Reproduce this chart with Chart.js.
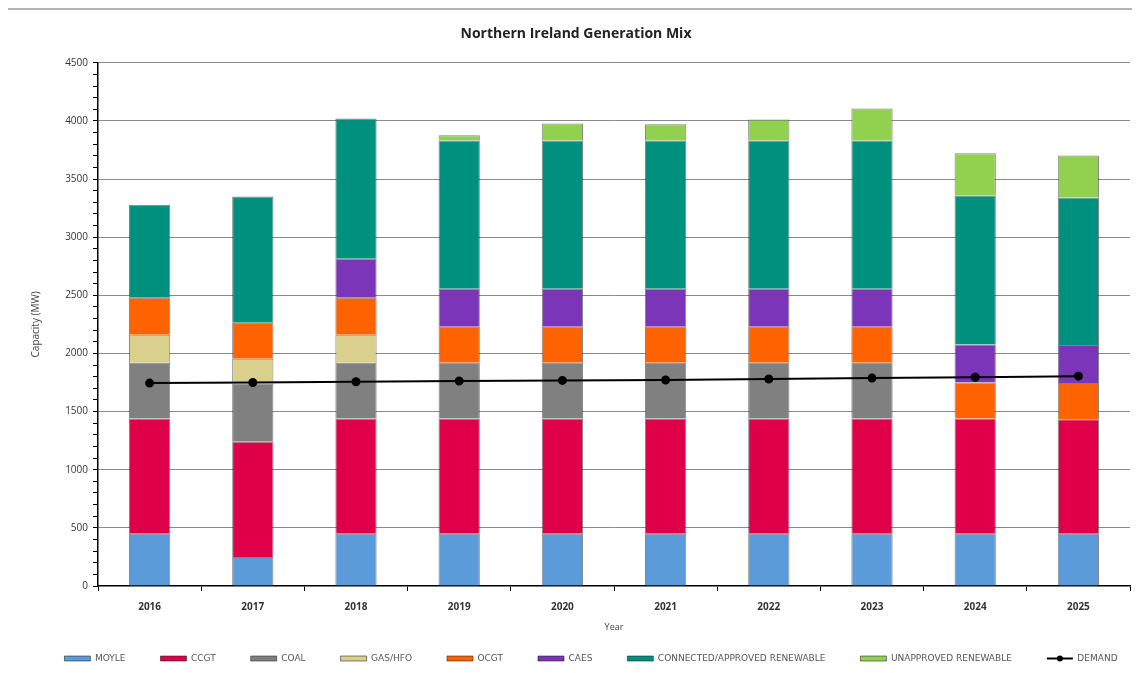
<!DOCTYPE html>
<html>
<head>
<meta charset="utf-8">
<script src="https://cdn.jsdelivr.net/npm/chart.js@4.4.1/dist/chart.umd.min.js"></script>
<style>
html, body { margin:0; padding:0; background:#ffffff; }
#wrap { position:relative; width:1137px; height:673px; }
#topRule { position:absolute; left:8px; top:8px; width:1124px; height:2px; background:#b4b4b4; }
</style>
</head>
<body>
<div id="wrap">
    <div id="topRule"></div>
    <canvas id="mixChart" width="1137" height="673"></canvas>
</div>
<script>

//======================================================
// DATA (MW)
//======================================================

const years = ["2016","2017","2018","2019","2020","2021","2022","2023","2024","2025"];

const moyle       = [450, 250, 450, 450, 450, 450, 450, 450, 450, 450];
const ccgt        = [990, 990, 990, 990, 990, 990, 990, 990, 990, 985];
const coal        = [480, 500, 480, 480, 480, 480, 480, 480, 0, 0];
const gasHfo      = [240, 215, 240, 0, 0, 0, 0, 0, 0, 0];
const ocgt        = [320, 310, 320, 310, 310, 310, 310, 310, 310, 310];
const caes        = [0, 0, 335, 327, 327, 327, 327, 327, 327, 327];
const renewable   = [800, 1085, 1205, 1275, 1275, 1275, 1275, 1275, 1282, 1270];
const unapproved  = [0, 0, 0, 45, 145, 140, 180, 275, 362, 360];
const demand      = [1745, 1750, 1757, 1763, 1768, 1772, 1780, 1788, 1795, 1805];

const yTickLabels = [0, 500, 1000, 1500, 2000, 2500, 3000, 3500, 4000, 4500];

//======================================================
// STYLE
//======================================================

const FONT = "'Open Sans', 'DejaVu Sans', sans-serif";
const BAR_EDGE = "rgba(30,30,30,0.55)";

function barSet(label, data, color){

    return {
        type:"bar",
        label:label,
        data:data,
        backgroundColor:color,
        borderColor:BAR_EDGE,
        borderWidth:1,
        stack:"mix",
        barPercentage:0.4,
        categoryPercentage:1.0,
        order:2
    };

}

//======================================================
// SMALL HELPERS: nudge title / legend, legend dot for demand
//======================================================

const nudgeBlocks = {
    id:"nudgeBlocks",
    afterLayout(chart){
        if(chart.legend){
            chart.legend.left += 26;
            chart.legend.right += 26;
        }
        if(chart.titleBlock){
            chart.titleBlock.left += 11;
            chart.titleBlock.right += 11;
        }
    }
};

const demandDot = {
    id:"demandDot",
    afterDraw(chart){
        const legend = chart.legend;
        if(!legend || !legend.legendHitBoxes) return;
        const idx = legend.legendItems.findIndex(function(it){ return it.text === "DEMAND"; });
        if(idx < 0) return;
        const box = legend.legendHitBoxes[idx];
        const ctx = chart.ctx;
        ctx.save();
        ctx.fillStyle = "#000000";
        ctx.beginPath();
        ctx.arc(box.left + 13, box.top + box.height / 2, 3, 0, Math.PI * 2);
        ctx.fill();
        ctx.restore();
    }
};

//======================================================
// BUILD CHART
//======================================================

const ctx = document.getElementById("mixChart").getContext("2d");

new Chart(ctx,{

    data:{

        labels:years,

        datasets:[
            barSet("MOYLE", moyle, "#5B9BD9"),
            barSet("CCGT", ccgt, "#E0004A"),
            barSet("COAL", coal, "#808080"),
            barSet("GAS/HFO", gasHfo, "#D8D08C"),
            barSet("OCGT", ocgt, "#FF6200"),
            barSet("CAES", caes, "#7A35B8"),
            barSet("CONNECTED/APPROVED RENEWABLE", renewable, "#00907E"),
            barSet("UNAPPROVED RENEWABLE", unapproved, "#92D050"),
            {
                type:"line",
                label:"DEMAND",
                data:demand,
                stack:"demand",
                borderColor:"#000000",
                backgroundColor:"#000000",
                borderWidth:2,
                pointRadius:3.5,
                pointBackgroundColor:"#000000",
                fill:false,
                tension:0,
                order:1
            }
        ]

    },

    options:{

        responsive:false,
        animation:false,

        layout:{
            padding:{ left:0, right:7, top:0, bottom:0 }
        },

        plugins:{

            title:{
                display:true,
                text:"Northern Ireland Generation Mix",
                color:"#222222",
                font:{ family:FONT, size:14, weight:"bold" },
                padding:{ top:26, bottom:20 }
            },

            legend:{
                position:"bottom",
                labels:{
                    font:{ family:"'DejaVu Sans', sans-serif", size:9 },
                    color:"#555555",
                    usePointStyle:true,
                    pointStyleWidth:26,
                    boxHeight:5,
                    padding:35,
                    sort(a, b){ return a.datasetIndex - b.datasetIndex; },
                    generateLabels(chart){
                        const items = Chart.defaults.plugins.legend.labels.generateLabels(chart);
                        items.forEach(function(it){
                            if(it.text === "DEMAND"){
                                it.pointStyle = "line";
                                it.strokeStyle = "#000000";
                                it.lineWidth = 2;
                            } else {
                                it.pointStyle = "rect";
                                it.lineWidth = 1;
                            }
                        });
                        return items;
                    }
                }
            },

            tooltip:{ enabled:false }

        },

        scales:{

            x:{
                stacked:true,
                offset:true,
                afterFit(scale){ scale.height = 33; },
                grid:{
                    offset:true,
                    drawOnChartArea:false,
                    tickLength:5,
                    tickColor:"#000000"
                },
                border:{ color:"#000000", width:1.5 },
                ticks:{
                    color:"#333333",
                    font:{ family:FONT, size:10, weight:"bold" },
                    padding:10
                },
                title:{
                    display:true,
                    text:"Year",
                    color:"#444444",
                    font:{ family:FONT, size:9 },
                    padding:{ top:2, bottom:-14 }
                }
            },

            y:{
                stacked:true,
                min:0,
                max:4500,
                afterFit(scale){ scale.width = 98; },
                grid:{
                    color(c){
                        return (c.tick && c.tick.value % 500 === 0 && c.tick.value > 0) ? "#8a8a8a" : "rgba(0,0,0,0)";
                    },
                    lineWidth:1,
                    tickLength:5,
                    tickColor:"#000000"
                },
                border:{ color:"#000000", width:1.5 },
                ticks:{
                    stepSize:100,
                    autoSkip:false,
                    color:"#333333",
                    font:{ family:FONT, size:10 },
                    padding:5,
                    callback(v){
                        return yTickLabels.indexOf(v) >= 0 ? String(v) : "";
                    }
                },
                title:{
                    display:true,
                    text:"Capacity (MW)",
                    color:"#444444",
                    font:{ family:FONT, size:10 },
                    padding:{ top:30, bottom:0 }
                }
            }

        }

    },

    plugins:[nudgeBlocks, demandDot]

});

</script>
</body>
</html>
